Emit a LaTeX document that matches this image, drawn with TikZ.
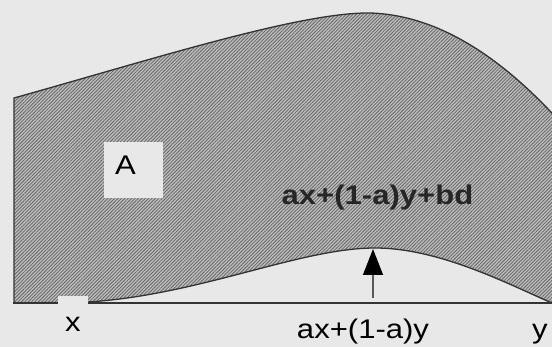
\documentclass[tikz,border=0pt]{standalone}
\usepackage{fontspec}
\setmainfont{Liberation Sans}
\usetikzlibrary{arrows.meta, patterns.meta}

\definecolor{paper}{gray}{0.91}
\definecolor{hatchbg}{gray}{0.74}
\definecolor{hatchln}{gray}{0.40}
\definecolor{rim}{gray}{0.2}
\newcommand{\wide}[1]{\scalebox{1.15}[1]{#1}}

\begin{document}
\begin{tikzpicture}[x=1pt, y=-1pt,
    region/.style={draw=rim, line width=1.3pt, preaction={fill=hatchbg},
        pattern={Lines[angle=45, distance=2.4pt, line width=0.8pt]}, pattern color=hatchln},
    axis/.style={draw=rim, line width=1.3pt},
    lbl/.style={font=\fontsize{27}{30}\selectfont, inner sep=0pt, anchor=base},
    abox/.style={lbl, fill=paper, text width=37pt, inner xsep=11pt, text height=33pt, text depth=23pt, align=left},
    xbox/.style={lbl, fill=paper, minimum width=30pt, text height=36pt, text depth=4pt},
    lift/.style={draw=gray!70!black, line width=1.3pt, shorten <=5pt, -{Triangle[length=26pt, width=20pt, color=black]}}]

    \useasboundingbox[fill=paper] (0,0) rectangle (552,347);
    \clip (0,0) rectangle (552,347);

    % shaded band above the line
    \path[region] (14,303) -- (14,98)
        .. controls (150,60) and (300,12) .. (370,13)
        .. controls (440,15) and (510,60) .. (580,145)
        -- (580,303) -- (552,303)
        .. controls (510,285) and (440,248) .. (375,248)
        .. controls (300,248) and (200,295) .. (88,302) -- cycle;
    \draw[axis] (13,303) -- (560,303);

    \coordinate (foot) at (373,303);
    \coordinate (peak) at (373,249);
    \draw[lift] (foot) -- (peak);

    \node[abox] (A) at (133.5,175) {\wide{A}};
    \node[lbl, font=\fontsize{27}{30}\selectfont\bfseries, text=black!85] (shift) at (377.5,205) {\wide{ax+(1-a)y+bd}};
    \node[xbox] (x) at (73,332) {\wide{x}};
    \node[lbl] (mix) at (363,339) {\wide{ax+(1-a)y}};
    \node[lbl] (y) at (540,339) {\wide{y}};
\end{tikzpicture}
\end{document}
